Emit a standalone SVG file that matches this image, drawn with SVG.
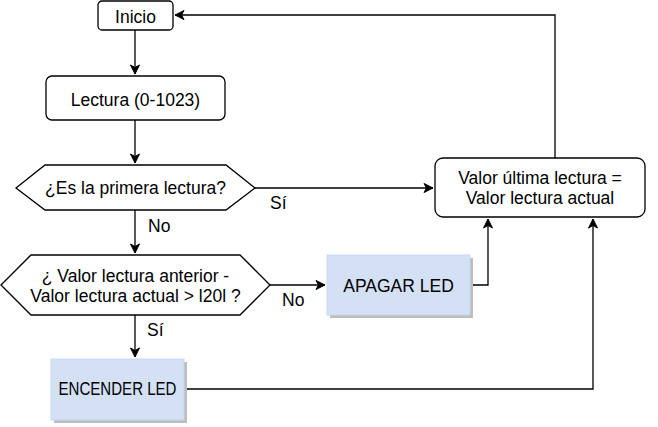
<svg xmlns="http://www.w3.org/2000/svg" width="658" height="427" viewBox="0 0 658 427">
<defs>
<marker id="arr" markerWidth="12" markerHeight="12" refX="10" refY="6" orient="auto" markerUnits="userSpaceOnUse">
<path d="M1,1.5 L10,6 L1,10.5 L3.5,6 Z" fill="#000" stroke="#000" stroke-width="1"/>
</marker>
</defs>
<style>
.n{fill:#fff;stroke:#000;stroke-width:1.3}
.b{fill:#d4e1f5;stroke:#c5d9f1;stroke-width:1}
.sh{fill:#bdbdbd}
.t{font-family:"Liberation Sans",Arial,sans-serif;font-size:17.5px;fill:#000;text-anchor:middle}
.l{font-family:"Liberation Sans",Arial,sans-serif;font-size:17.5px;fill:#000}
.c{fill:none;stroke:#000;stroke-width:1.3}
</style>
<rect width="658" height="427" fill="#fff"/>
<g id="connectors">
<path class="c" d="M135,30 V74" marker-end="url(#arr)"/>
<path class="c" d="M135,120 V163" marker-end="url(#arr)"/>
<path class="c" d="M255,188 H433" marker-end="url(#arr)"/>
<path class="c" d="M135,210 V253" marker-end="url(#arr)"/>
<path class="c" d="M270,285 H325" marker-end="url(#arr)"/>
<path class="c" d="M135,315 V357" marker-end="url(#arr)"/>
<path class="c" d="M470,285 H488 V219" marker-end="url(#arr)"/>
<path class="c" d="M184,389 H593 V219" marker-end="url(#arr)"/>
<path class="c" d="M555,158 V15 H175" marker-end="url(#arr)"/>
<text class="l" x="270" y="209">Sí</text>
<text class="l" x="148" y="232">No</text>
<text class="l" x="282" y="306">No</text>
<text class="l" x="147" y="336">Sí</text>
</g>
<g id="inicio">
<rect class="n" x="98" y="1" width="75" height="29" rx="4"/>
<text class="t" x="135.5" y="22.5">Inicio</text>
</g>
<g id="lectura">
<rect class="n" x="46" y="76" width="179" height="44" rx="6"/>
<text class="t" x="135.5" y="106">Lectura (0-1023)</text>
</g>
<g id="decision1">
<polygon class="n" points="16,188 45,165 226,165 255,188 226,210 45,210"/>
<text class="t" x="135.5" y="194">¿Es la primera lectura?</text>
</g>
<g id="decision2">
<polygon class="n" points="1,285 31,255 240,255 270,285 240,315 31,315"/>
<text class="t" x="135.5" y="281.5">¿ Valor lectura anterior -</text>
<text class="t" x="135.5" y="301.5">Valor lectura actual &gt; l20l ?</text>
</g>
<g id="valor">
<rect class="n" x="435" y="158" width="210" height="59" rx="8"/>
<text class="t" x="540" y="184">Valor última lectura =</text>
<text class="t" x="540" y="204">Valor lectura actual</text>
</g>
<g id="apagar">
<rect class="sh" x="330" y="258" width="143" height="60"/>
<rect class="b" x="327" y="255" width="143" height="60"/>
<text class="t" x="398.5" y="291.5">APAGAR LED</text>
</g>
<g id="encender">
<rect class="sh" x="54" y="362" width="133" height="61"/>
<rect class="b" x="51" y="359" width="133" height="61"/>
<text class="t" x="117.5" y="395" textLength="118" lengthAdjust="spacingAndGlyphs">ENCENDER LED</text>
</g>
</svg>
